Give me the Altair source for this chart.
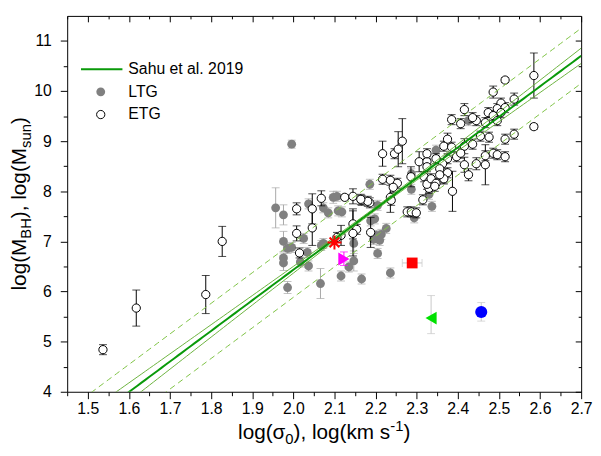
import altair as alt
import pandas as pd
import numpy as np

FONT = "Liberation Sans"

# ---------------- data ----------------
etg_x = [1.537, 1.618, 1.787, 1.827,
         2.008, 2.008, 2.015, 2.046, 2.046, 2.068, 2.125, 2.145, 2.145, 2.116, 2.106,
         2.166, 2.186, 2.154, 2.145, 2.188, 2.236, 2.238, 2.181, 2.164, 2.277, 2.287,
         2.299, 2.315, 2.387, 2.217, 2.236, 2.253, 2.243, 2.306, 2.325, 2.318, 2.330,
         2.330,
         2.585, 2.515, 2.486, 2.505, 2.537, 2.496, 2.515, 2.505, 2.474, 2.486, 2.496,
         2.467, 2.445, 2.436, 2.416, 2.407, 2.385, 2.585, 2.537, 2.515, 2.476, 2.455,
         2.436, 2.416, 2.375, 2.366, 2.385, 2.397, 2.407, 2.325, 2.347, 2.375, 2.363,
         2.217, 2.246, 2.255, 2.265, 2.325, 2.286, 2.325, 2.335, 2.356, 2.375, 2.366,
         2.416, 2.426, 2.445, 2.467, 2.467, 2.486, 2.496, 2.515, 2.356, 2.347, 2.344]
etg_y = [4.84, 5.67, 5.94, 7.00,
         7.65, 7.16, 6.77, 7.65, 7.27, 7.86, 7.88, 7.90, 7.35, 7.12, 7.08,
         7.82, 7.77, 7.24, 7.16, 7.18, 7.88, 7.82, 7.80, 7.84, 7.59, 7.59,
         7.57, 7.83, 8.00, 8.24, 8.22, 8.16, 8.08, 8.59, 8.59, 8.29, 8.20,
         8.06,
         10.31, 10.22, 9.98, 9.76, 9.84, 9.65, 9.67, 9.57, 9.57, 9.51, 9.41,
         9.37, 9.41, 9.47, 9.63, 9.35, 9.43, 9.29, 9.14, 9.04, 9.08, 9.10,
         8.94, 8.90, 9.04, 8.90, 8.88, 8.69, 8.76, 8.75, 8.65, 8.65, 8.55,
         8.75, 8.75, 8.84, 9.00, 8.49, 8.29, 8.14, 8.25, 8.45, 8.37, 8.25,
         8.53, 8.33, 8.55, 8.53, 8.71, 8.76, 8.73, 8.69, 8.33, 8.16, 8.10]
etg_err = [0.10, 0.36, 0.38, 0.30,
           0.12, 0.15, 0.10, 0.30, 0.35, 0.15, 0.05, 0.15, 0.30, 0.20, 0.10,
           0.10, 0.10, 0.10, 0.45, 0.30, 0.30, 0.10, 0.10, 0.10, 0.10, 0.10,
           0.10, 0.10, 0.40, 0.10, 0.10, 0.10, 0.10, 0.20, 0.10, 0.10, 0.10,
           0.10,
           0.45, 0.05, 0.12, 0.10, 0.12, 0.10, 0.10, 0.10, 0.10, 0.10, 0.10,
           0.10, 0.10, 0.10, 0.12, 0.10, 0.10, 0.05, 0.10, 0.10, 0.10, 0.10,
           0.10, 0.15, 0.12, 0.10, 0.10, 0.10, 0.10, 0.10, 0.10, 0.10, 0.10,
           0.25, 0.10, 0.35, 0.45, 0.10, 0.20, 0.10, 0.10, 0.10, 0.10, 0.10,
           0.15, 0.12, 0.12, 0.40, 0.10, 0.10, 0.10, 0.10, 0.10, 0.10, 0.10]

ltg_x = [1.996, 1.957, 1.976, 2.037, 2.097, 2.073, 2.085, 2.109, 2.118, 1.976,
         1.986, 1.996, 2.025, 2.034, 1.976, 1.976, 2.017, 2.037, 2.068, 2.073,
         1.986, 2.066, 2.116, 2.166, 2.236, 2.147, 2.147, 2.135, 2.205, 2.195,
         2.210, 2.214, 2.226, 2.188, 2.198, 2.202, 2.205, 2.186, 2.287, 2.287,
         2.294, 2.337, 2.330, 2.347, 2.426, 2.106, 2.366]
ltg_y = [8.94, 7.67, 7.53, 7.75, 7.88, 7.67, 7.57, 7.61, 7.59, 7.00,
         6.86, 6.88, 7.06, 6.78, 6.67, 6.57, 6.59, 6.51, 6.92, 6.96,
         6.08, 6.16, 6.31, 6.25, 6.37, 6.96, 6.61, 6.49, 6.76, 7.04,
         7.02, 7.14, 7.26, 7.41, 7.45, 7.12, 7.72, 8.14, 8.04, 8.35,
         7.47, 7.70, 7.94, 8.82, 9.41, 7.90, 8.24]
ltg_err = [0.08, 0.40, 0.20, 0.10, 0.12, 0.10, 0.10, 0.10, 0.10, 0.20,
           0.10, 0.10, 0.10, 0.10, 0.10, 0.15, 0.10, 0.10, 0.10, 0.10,
           0.12, 0.30, 0.10, 0.10, 0.10, 0.20, 0.20, 0.10, 0.10, 0.10,
           0.10, 0.10, 0.10, 0.10, 0.10, 0.10, 0.10, 0.10, 0.10, 0.10,
           0.10, 0.10, 0.10, 0.10, 0.10, 0.10, 0.10]

# special objects
star_x, star_y = [2.100], [6.98]
mark_x = [2.123, 2.289, 2.335, 2.457]
mark_y = [6.65, 6.57, 5.47, 5.59]
mark_color = ["#FF00FF", "#FF0000", "#00E000", "#0000FF"]
mark_shape = ["triangle-right", "square", "triangle-left", "circle"]
mark_size = [170, 120, 170, 150]
# vertical error ranges (x, low, high, colour) and horizontal ones (y, low, high)
sp_verr_x = [2.123, 2.335, 2.457]
sp_verr_lo = [6.52, 5.16, 5.41]
sp_verr_hi = [6.79, 5.92, 5.78]
sp_verr_col = ["#FF00FF", "#C8C8C8", "#C8C8C8"]
sp_herr_y = [6.57]
sp_herr_lo = [2.265]
sp_herr_hi = [2.313]

# Sahu et al. 2019 relation, its confidence band and rms scatter lines
fit_slope = 6.10
fit_norm = 8.27
fit_pivot = float(np.log10(200.0))
band_pivot = 2.2
band_min = 0.03
band_slope = 0.30
rms_scatter = 0.55

x_major = [round(1.5 + 0.1 * i, 2) for i in range(13)]
x_minor = [round(1.45 + 0.1 * i, 2) for i in range(13)]
y_major = list(range(4, 12))
y_minor = [4.5 + i for i in range(7)]

legend_labels = ["Sahu et al. 2019", "LTG", "ETG"]

# ---------------- scales ----------------
xscale = alt.Scale(domain=[1.45, 2.7], nice=False, zero=False)
yscale = alt.Scale(domain=[4, 11.5], nice=False, zero=False)


def X(f="x"):
    return alt.X(f"{f}:Q", scale=xscale, axis=None)


def Y(f="y"):
    return alt.Y(f"{f}:Q", scale=yscale, axis=None)


def ax(orient, values, tick, labels=False, offset=0, fmt=".1f", pad=3):
    kw = dict(orient=orient, values=values, tickSize=tick, labels=labels,
              domain=False, grid=False, title=None, ticks=True,
              tickColor="black", tickWidth=1)
    if offset:
        kw["offset"] = offset
    if labels:
        kw.update(labelFont=FONT, labelFontSize=16, labelColor="black",
                  labelPadding=pad, format=fmt, labelFlush=False,
                  labelOverlap=False)
    return alt.Axis(**kw)


corners = pd.DataFrame({"x": [1.45, 2.7], "y": [4.0, 11.5]})


def carrier(xa, ya):
    return alt.Chart(corners).mark_point(opacity=0).encode(
        x=alt.X("x:Q", scale=xscale, axis=xa),
        y=alt.Y("y:Q", scale=yscale, axis=ya))


axes = [
    carrier(ax("bottom", x_major, 7, labels=True, fmt=".1f", pad=2),
            ax("left", y_major, 7, labels=True, fmt="d", pad=9)),
    carrier(ax("bottom", x_minor, 4), ax("left", y_minor, 4)),
    carrier(ax("top", x_major, 6, offset=-6), ax("right", y_major, 6, offset=-6)),
    carrier(ax("top", x_minor, 3, offset=-3), ax("right", y_minor, 3, offset=-3)),
]


def errbars(xs, ys, es, color):
    df = pd.DataFrame({"x": xs, "y": ys, "e": es})
    df["lo"] = df["y"] - df["e"]
    df["hi"] = df["y"] + df["e"]
    caps = pd.concat([df[["x", "lo"]].rename(columns={"lo": "c"}),
                      df[["x", "hi"]].rename(columns={"hi": "c"})])
    r = alt.Chart(df).mark_rule(color=color, strokeWidth=1).encode(
        x=X(), y=Y("lo"), y2=alt.Y2("hi:Q"))
    t = alt.Chart(caps).mark_tick(color=color, orient="horizontal",
                                  size=8, thickness=1).encode(x=X(), y=Y("c"))
    return [r, t]


ltg_df = pd.DataFrame({"x": ltg_x, "y": ltg_y})
etg_df = pd.DataFrame({"x": etg_x, "y": etg_y})

ltg_pts = alt.Chart(ltg_df).mark_point(filled=True, color="#808080", size=80,
                                       opacity=1).encode(x=X(), y=Y())
etg_pts = alt.Chart(etg_df).mark_point(filled=True, fill="white", stroke="black",
                                       strokeWidth=1, size=70, opacity=1).encode(x=X(), y=Y())

# fit relation and its bands
xs = np.round(np.linspace(1.45, 2.7, 126), 4)
yc = fit_norm + fit_slope * (xs - fit_pivot)
band = np.sqrt(band_min ** 2 + (band_slope * (xs - band_pivot)) ** 2)
rows = []
for k, yy in [("c", yc), ("bh", yc + band), ("bl", yc - band),
              ("dh", yc + rms_scatter), ("dl", yc - rms_scatter)]:
    for a, b in zip(xs, yy):
        rows.append({"x": float(a), "y": float(b), "k": k})
fit_df = pd.DataFrame(rows)

dash_lines = alt.Chart(fit_df).transform_filter(
    alt.FieldOneOfPredicate(field="k", oneOf=["dh", "dl"])).mark_line(
    clip=True, color="#7DC242", strokeWidth=1, strokeDash=[6, 4]).encode(
    x=X(), y=Y(), detail="k:N")
band_lines = alt.Chart(fit_df).transform_filter(
    alt.FieldOneOfPredicate(field="k", oneOf=["bh", "bl"])).mark_line(
    clip=True, color="#6CB33E", strokeWidth=1).encode(x=X(), y=Y(), detail="k:N")
center_line = alt.Chart(fit_df).transform_filter(
    alt.FieldEqualPredicate(field="k", equal="c")).mark_line(
    clip=True, color="#0A9A0A", strokeWidth=2).encode(x=X(), y=Y())

# special objects
verr_df = pd.DataFrame({"x": sp_verr_x, "lo": sp_verr_lo, "hi": sp_verr_hi, "col": sp_verr_col})
vcaps = pd.concat([verr_df[["x", "lo", "col"]].rename(columns={"lo": "c"}),
                   verr_df[["x", "hi", "col"]].rename(columns={"hi": "c"})])
sp_vrule = alt.Chart(verr_df).mark_rule(strokeWidth=1).encode(
    x=X(), y=Y("lo"), y2=alt.Y2("hi:Q"), color=alt.Color("col:N", scale=None))
sp_vcap = alt.Chart(vcaps).mark_tick(orient="horizontal", size=8, thickness=1).encode(
    x=X(), y=Y("c"), color=alt.Color("col:N", scale=None))
herr_df = pd.DataFrame({"y": sp_herr_y, "lo": sp_herr_lo, "hi": sp_herr_hi})
hcaps = pd.concat([herr_df[["y", "lo"]].rename(columns={"lo": "c"}),
                   herr_df[["y", "hi"]].rename(columns={"hi": "c"})])
sp_hrule = alt.Chart(herr_df).mark_rule(strokeWidth=1, color="#C8C8C8").encode(
    y=Y(), x=X("lo"), x2=alt.X2("hi:Q"))
sp_hcap = alt.Chart(hcaps).mark_tick(orient="vertical", size=8, thickness=1,
                                     color="#C8C8C8").encode(x=X("c"), y=Y())

marks_df = pd.DataFrame({"x": mark_x, "y": mark_y, "col": mark_color,
                         "shp": mark_shape, "sz": mark_size})
sp_marks = alt.Chart(marks_df).mark_point(filled=True, opacity=1).encode(
    x=X(), y=Y(), color=alt.Color("col:N", scale=None),
    shape=alt.Shape("shp:N", scale=None), size=alt.Size("sz:Q", scale=None))
ASTERISK = "M-1,0L1,0M0,-1L0,1M-0.7,-0.7L0.7,0.7M-0.7,0.7L0.7,-0.7"
star = alt.Chart(pd.DataFrame({"x": star_x, "y": star_y})).mark_point(
    shape=ASTERISK, filled=False, stroke="#FF0000", strokeWidth=2, size=200,
    opacity=1).encode(x=X(), y=Y())

# ---------------- legend (layout in pixels) ----------------
leg_line = alt.Chart(pd.DataFrame({"a": [0]})).mark_rule(
    color="#0A9A0A", strokeWidth=2).encode(
    x=alt.value(14), x2=alt.value(56), y=alt.value(54))
leg_ltg = alt.Chart(pd.DataFrame({"a": [0]})).mark_point(
    filled=True, color="#808080", size=80, opacity=1).encode(
    x=alt.value(34), y=alt.value(77))
leg_etg = alt.Chart(pd.DataFrame({"a": [0]})).mark_point(
    filled=True, fill="white", stroke="black", strokeWidth=1, size=70,
    opacity=1).encode(x=alt.value(34), y=alt.value(100))
leg_text = alt.Chart(pd.DataFrame({"t": legend_labels, "py": [54, 77, 100]})).mark_text(
    font=FONT, fontSize=16, align="left", baseline="middle", color="black").encode(
    x=alt.value(62), y=alt.Y("py:Q", scale=None, axis=None), text="t:N")

# ---------------- axis titles with sub/superscripts ----------------
AW = {'l': 222, 'o': 556, 'g': 556, '(': 333, ')': 333, 'M': 833, 'B': 667,
      'H': 722, ',': 278, ' ': 278, 's': 500, 'u': 556, 'n': 556, 'k': 500,
      'm': 833, '0': 556, '1': 556, '-': 333, 'σ': 617}


def tw(s, fs):
    return sum(AW.get(c, 556) for c in s) * fs / 1000.0


TF, SF = 21, 15
xt_parts = [("log(σ", TF, 0), ("0", SF, 5), ("), log(km s", TF, 0), ("-1", SF, -8), (")", TF, 0)]
yt_parts = [("log(M", TF, 0), ("BH", SF, 5), ("), log(M", TF, 0), ("sun", SF, 5), (")", TF, 0)]

plot_w, plot_h = 521, 381
xt_total = sum(tw(s, f) for s, f, _ in xt_parts)
cx = plot_w / 2 - xt_total / 2
xrows = []
for s, f, sh in xt_parts:
    xrows.append({"t": s, "px": cx, "py": 429 + sh, "fs": f})
    cx += tw(s, f)
yt_total = sum(tw(s, f) for s, f, _ in yt_parts)
cy = plot_h / 2 + yt_total / 2
yrows = []
for s, f, sh in yt_parts:
    yrows.append({"t": s, "px": -42 + sh, "py": cy, "fs": f})
    cy -= tw(s, f)

xtitle = alt.Chart(pd.DataFrame(xrows)).mark_text(
    font=FONT, align="left", baseline="alphabetic", color="black").encode(
    x=alt.X("px:Q", scale=None, axis=None), y=alt.Y("py:Q", scale=None, axis=None),
    text="t:N", size=alt.Size("fs:Q", scale=None))
ytitle = alt.Chart(pd.DataFrame(yrows)).mark_text(
    font=FONT, align="left", baseline="alphabetic", color="black", angle=270).encode(
    x=alt.X("px:Q", scale=None, axis=None), y=alt.Y("py:Q", scale=None, axis=None),
    text="t:N", size=alt.Size("fs:Q", scale=None))

layers = (axes
          + errbars(ltg_x, ltg_y, ltg_err, "#A8A8A8") + [ltg_pts]
          + errbars(etg_x, etg_y, etg_err, "black") + [etg_pts]
          + [dash_lines, band_lines, center_line]
          + [sp_vrule, sp_vcap, sp_hrule, sp_hcap, sp_marks, star]
          + [leg_line, leg_ltg, leg_etg, leg_text, xtitle, ytitle])

chart = alt.layer(*layers).resolve_axis(x="independent", y="independent").properties(
    width=plot_w, height=plot_h,
    padding={"left": 60, "top": 5, "right": 12, "bottom": 54},
    autosize=alt.AutoSizeParams(type="none"),
    background="white",
).configure_view(stroke="black", strokeWidth=1)

chart.save("out.html", embed_options={"renderer": "svg", "actions": False})
